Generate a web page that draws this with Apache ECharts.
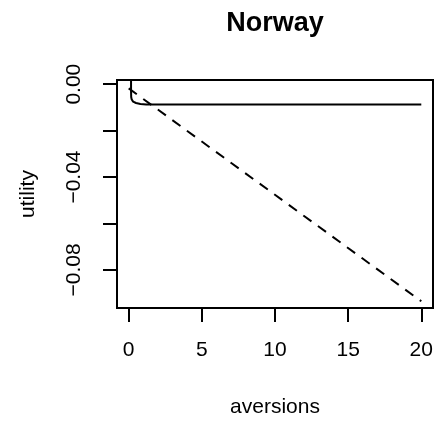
<!DOCTYPE html>
<html>
<head>
<meta charset="utf-8">
<script src="https://cdn.jsdelivr.net/npm/echarts@6/dist/echarts.min.js"></script>
<style>
  html, body { margin: 0; padding: 0; background: #fff; }
  #chart { width: 437px; height: 423px; }
</style>
</head>
<body>
<div id="chart"></div>
<script>
// Utility of aversions for Norway: fitted curve (solid) and linear reference (dashed)
const titleText = 'Norway';
const xName = 'aversions';
const yName = 'utility';

const curveX = [0.16, 0.16, 0.17, 0.2, 0.3, 0.5, 0.8, 1.2, 2, 5, 10, 20];
const curveY = [0.01, -0.003, -0.0055, -0.0065, -0.0075, -0.0081, -0.0085, -0.0087, -0.0088, -0.0088, -0.0088, -0.0088];

const linearX = [0, 20];
const linearY = [-0.0018, -0.0935];

const xTicks = [0, 5, 10, 15, 20];
const yTicks = [0, -0.02, -0.04, -0.06, -0.08];
const yTickLabels = [0, -0.04, -0.08];

const FONT = '"Liberation Sans", Arial, sans-serif';

const zip = (xs, ys) => xs.map((x, i) => [x, ys[i]]);

const chart = echarts.init(document.getElementById('chart'), null, { renderer: 'canvas' });

chart.setOption({
  animation: false,
  backgroundColor: '#fff',
  textStyle: { fontFamily: FONT, color: '#000' },
  graphic: [{
    type: 'text',
    x: 275,
    y: 10,
    style: {
      text: titleText,
      font: 'bold 27px ' + FONT,
      fill: '#000',
      align: 'center',
      verticalAlign: 'top'
    }
  }],
  grid: {
    left: 117, top: 80, right: 4, bottom: 110,
    show: true,
    borderColor: '#000',
    borderWidth: 2,
    backgroundColor: 'transparent'
  },
  xAxis: {
    type: 'value',
    min: -0.8,
    max: 20.8,
    splitLine: { show: false },
    axisLine: { show: false, onZero: false },
    axisTick: {
      show: true,
      inside: false,
      customValues: xTicks,
      length: 14,
      lineStyle: { color: '#000', width: 2 }
    },
    axisLabel: {
      customValues: xTicks,
      fontSize: 21,
      color: '#000',
      fontFamily: FONT,
      margin: 32
    },
    name: xName,
    nameLocation: 'middle',
    nameGap: 89,
    nameTextStyle: { fontSize: 21, color: '#000', fontFamily: FONT }
  },
  yAxis: {
    type: 'value',
    min: -0.0964,
    max: 0.0018,
    splitLine: { show: false },
    axisLine: { show: false, onZero: false },
    axisTick: {
      show: true,
      inside: false,
      customValues: yTicks,
      length: 14,
      lineStyle: { color: '#000', width: 2 }
    },
    axisLabel: {
      customValues: yTickLabels,
      rotate: 90,
      fontSize: 21,
      color: '#000',
      fontFamily: FONT,
      margin: 32,
      formatter: v => (v < 0 ? '\u2212' : '') + Math.abs(v).toFixed(2)
    },
    name: yName,
    nameLocation: 'middle',
    nameRotate: 90,
    nameGap: 78,
    nameTextStyle: { fontSize: 21, color: '#000', fontFamily: FONT }
  },
  series: [
    {
      type: 'line',
      data: zip(curveX, curveY),
      showSymbol: false,
      clip: true,
      lineStyle: { color: '#000', width: 2 }
    },
    {
      type: 'line',
      data: zip(linearX, linearY),
      showSymbol: false,
      clip: true,
      lineStyle: { color: '#000', width: 2, type: [10, 8] }
    }
  ]
});
</script>
</body>
</html>
